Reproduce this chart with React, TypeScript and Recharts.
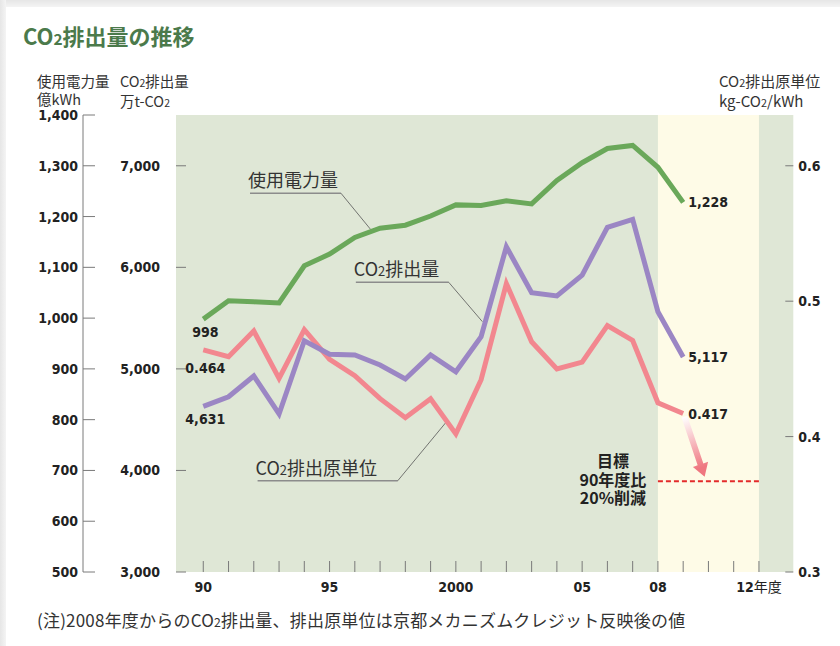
import React from "react";
import {
  LineChart,
  Line,
  XAxis,
  YAxis,
  CartesianGrid,
  ReferenceArea,
  ReferenceLine,
  LabelList,
} from "recharts";

// 年度
const years = [
  1990, 1991, 1992, 1993, 1994, 1995, 1996, 1997, 1998, 1999, 2000, 2001, 2002,
  2003, 2004, 2005, 2006, 2007, 2008, 2009,
];
// 使用電力量 (億kWh)
const electricity = [
  998, 1034, 1032, 1030, 1103, 1126, 1159, 1177, 1183, 1201, 1223, 1222, 1231,
  1225, 1271, 1306, 1334, 1340, 1297, 1228,
];
// CO2排出量 (万t-CO2)
const emissions = [
  4631, 4726, 4930, 4556, 5277, 5144, 5137, 5038, 4900, 5137, 4972, 5317, 6203,
  5750, 5718, 5924, 6394, 6473, 5563, 5117,
];
// CO2排出原単位 (kg-CO2/kWh)
const intensity = [
  0.464, 0.459, 0.478, 0.443, 0.479, 0.457, 0.445, 0.428, 0.414, 0.428, 0.402,
  0.442, 0.513, 0.47, 0.45, 0.455, 0.482, 0.471, 0.425, 0.417,
];

// 目標 (90年度比20%削減)
const targetValue = 0.367;
const targetYears = [2008, 2012];

const xTicks = Array.from({ length: 23 }, (_, i) => 1990 + i);
const xTickLabels: Record<number, string> = {
  1990: "90",
  1995: "95",
  2000: "2000",
  2005: "05",
  2008: "08",
  2012: "12年度",
};
const elecTicks = [500, 600, 700, 800, 900, 1000, 1100, 1200, 1300, 1400];
const emissionTicks = [3000, 4000, 5000, 6000, 7000];
const intensityTicks = [0.3, 0.4, 0.5, 0.6];

const data = years.map((year, i) => ({
  year,
  electricity: electricity[i],
  emissions: emissions[i],
  intensity: intensity[i],
}));

const NUM_FONT = "'DejaVu Sans Condensed', 'DejaVu Sans', sans-serif";
const JP_FONT = "'Noto Sans CJK JP', 'Noto Sans', sans-serif";
const TICK_GRAY = "#7a7a7a";

const GREEN = "#6aa85a";
const PURPLE = "#9b86c4";
const PINK = "#f2878f";

const fmt = (v: number) => v.toLocaleString("en-US");

const ElecTick = ({ x, y, payload }: any) => (
  <g>
    <line x1={x} x2={x + 12} y1={y} y2={y} stroke={TICK_GRAY} />
    <text
      x={x - 5}
      y={y}
      dy="0.36em"
      textAnchor="end"
      fontFamily={NUM_FONT}
      fontWeight={700}
      fontSize={14}
      fill="#222"
    >
      {fmt(payload.value)}
    </text>
  </g>
);

const EmissionTick = ({ x, y, payload }: any) => (
  <g>
    <line x1={x} x2={x + 10} y1={y} y2={y} stroke={TICK_GRAY} />
    <text
      x={x - 16}
      y={y}
      dy="0.36em"
      textAnchor="end"
      fontFamily={NUM_FONT}
      fontWeight={700}
      fontSize={14}
      fill="#222"
    >
      {fmt(payload.value)}
    </text>
  </g>
);

const IntensityTick = ({ x, y, payload }: any) => (
  <g>
    <line x1={x - 8} x2={x} y1={y} y2={y} stroke={TICK_GRAY} />
    <text
      x={x + 5}
      y={y}
      dy="0.36em"
      textAnchor="start"
      fontFamily={NUM_FONT}
      fontWeight={700}
      fontSize={14}
      fill="#222"
    >
      {payload.value.toFixed(1)}
    </text>
  </g>
);

const YearTick = ({ x, y, payload }: any) => {
  const label = xTickLabels[payload.value];
  return (
    <g>
      <line x1={x} x2={x} y1={y - 11} y2={y} stroke={TICK_GRAY} />
      {label && (
        <text
          x={x}
          y={y + 15}
          dy="0.36em"
          textAnchor="middle"
          fontFamily={NUM_FONT}
          fontWeight={700}
          fontSize={14}
          fill="#222"
        >
          {label.replace("年度", "")}
          {label.includes("年度") && (
            <tspan fontFamily={JP_FONT} fontWeight={400} fontSize={14}>
              年度
            </tspan>
          )}
        </text>
      )}
    </g>
  );
};

// first / last point labels
const endLabels =
  (values: number[], text: (v: number) => string, firstDy: number) =>
  (p: any) => {
    const last = values.length - 1;
    const idx =
      p.index !== undefined
        ? p.index
        : p.value === values[0]
        ? 0
        : p.value === values[last]
        ? last
        : -1;
    if (idx !== 0 && idx !== last) return null;
    const common = {
      fontFamily: NUM_FONT,
      fontWeight: 700,
      fontSize: 14,
      fill: "#222",
      dy: "0.36em",
    };
    if (idx === 0)
      return (
        <text x={p.x + 2} y={p.y + firstDy} textAnchor="middle" {...common}>
          {text(values[0])}
        </text>
      );
    return (
      <text x={p.x + 5} y={p.y} textAnchor="start" {...common}>
        {text(values[last])}
      </text>
    );
  };

const Co2 = () => (
  <>
    CO<tspan fontSize="0.72em">2</tspan>
  </>
);

const underline = (label: React.ReactNode) => (p: any) => (
  <g>
    <line
      x1={p.x1}
      y1={p.y1}
      x2={p.x2}
      y2={p.y2}
      stroke="#8c8c8c"
      strokeWidth={1.5}
    />
    <text
      x={p.x1 - 2}
      y={p.y1 - 6}
      fontFamily={JP_FONT}
      fontSize={18}
      fill="#333"
    >
      {label}
    </text>
  </g>
);

const TargetShape = (p: any) => {
  const cx = p.x1 - 45;
  const style = {
    fontFamily: JP_FONT,
    fontSize: 16,
    fontWeight: 700,
    fill: "#222",
    textAnchor: "middle" as const,
  };
  return (
    <g>
      <line
        x1={p.x1}
        y1={p.y1}
        x2={p.x2}
        y2={p.y2}
        stroke="#e32b2b"
        strokeWidth={2}
        strokeDasharray="5 3"
      />
      <text x={cx} y={p.y1 - 14} {...style}>
        目標
      </text>
      <text x={cx} y={p.y1 + 4.5} {...style}>
        90年度比
      </text>
      <text x={cx} y={p.y1 + 22.5} {...style}>
        20%削減
      </text>
    </g>
  );
};

const ArrowShape = (p: any) => {
  const { x1, y1, x2, y2 } = p;
  const dx = x2 - x1;
  const dy = y2 - y1;
  const len = Math.hypot(dx, dy);
  const ux = dx / len;
  const uy = dy / len;
  const nx = -uy;
  const ny = ux;
  const head = 13;
  const hw = 8;
  const sw = 3;
  const bx = x2 - ux * head;
  const by = y2 - uy * head;
  const pts = [
    [x1 + nx * sw, y1 + ny * sw],
    [bx + nx * sw, by + ny * sw],
    [bx + nx * hw, by + ny * hw],
    [x2, y2],
    [bx - nx * hw, by - ny * hw],
    [bx - nx * sw, by - ny * sw],
    [x1 - nx * sw, y1 - ny * sw],
  ]
    .map((q) => q.join(","))
    .join(" ");
  return (
    <g>
      <defs>
        <linearGradient
          id="arrowGrad"
          gradientUnits="userSpaceOnUse"
          x1={x1}
          y1={y1}
          x2={x2}
          y2={y2}
        >
          <stop offset="0" stopColor="#ffffff" />
          <stop offset="0.85" stopColor="#ef7780" />
        </linearGradient>
      </defs>
      <polygon points={pts} fill="url(#arrowGrad)" />
    </g>
  );
};

const headerStyle: React.CSSProperties = {
  position: "absolute",
  top: 72,
  fontSize: 14.5,
  lineHeight: "17.5px",
  color: "#333",
  whiteSpace: "nowrap",
};

export default function App() {
  return (
    <div
      style={{
        position: "absolute",
        left: 0,
        top: 0,
        width: 840,
        height: 646,
        background: "#fff",
        overflow: "hidden",
        fontFamily: JP_FONT,
      }}
    >
      <div
        style={{
          position: "absolute",
          left: 0,
          top: 0,
          width: 840,
          height: 7,
          background: "linear-gradient(#e6e6e6, #f4f4f4)",
        }}
      />
      <div
        style={{
          position: "absolute",
          left: 0,
          top: 0,
          width: 6,
          height: 646,
          background: "linear-gradient(90deg, #e6e6e6, #f4f4f4)",
        }}
      />
      <div
        style={{
          position: "absolute",
          left: 23,
          top: 24,
          fontSize: 22,
          lineHeight: "22px",
          fontWeight: 700,
          color: "#4b7a4b",
          whiteSpace: "nowrap",
        }}
      >
        CO<span style={{ fontSize: "0.7em" }}>2</span>排出量の推移
      </div>
      <div style={{ ...headerStyle, left: 37 }}>
        使用電力量
        <br />
        億kWh
      </div>
      <div style={{ ...headerStyle, left: 120 }}>
        CO<span style={{ fontSize: "0.72em" }}>2</span>排出量
        <br />
        万t-CO<span style={{ fontSize: "0.72em" }}>2</span>
      </div>
      <div style={{ ...headerStyle, left: 719, fontSize: 15 }}>
        CO<span style={{ fontSize: "0.72em" }}>2</span>排出原単位
        <br />
        kg-CO<span style={{ fontSize: "0.72em" }}>2</span>/kWh
      </div>
      <div
        style={{
          position: "absolute",
          left: 37,
          top: 611,
          fontSize: 17,
          lineHeight: "18px",
          color: "#333",
          whiteSpace: "nowrap",
          letterSpacing: "0.2px",
        }}
      >
        (注)2008年度からのCO<span style={{ fontSize: "0.72em" }}>2</span>
        排出量、排出原単位は京都メカニズムクレジット反映後の値
      </div>

      <div style={{ position: "absolute", left: 0, top: 0 }}>
        <LineChart
          width={840}
          height={646}
          data={data}
          margin={{ top: 115, right: 0, bottom: 44, left: 0 }}
        >
          <CartesianGrid
            yAxisId="elec"
            horizontal={false}
            vertical={false}
            fill="#dfe7d6"
            stroke="none"
          />
          <ReferenceArea
            x1={targetYears[0]}
            x2={targetYears[1]}
            yAxisId="elec"
            fill="#fefbe7"
            fillOpacity={1}
            stroke="none"
          />
          <XAxis
            dataKey="year"
            type="number"
            domain={[1988.92, 2013.36]}
            ticks={xTicks}
            interval={0}
            height={30}
            axisLine={false}
            tickLine={false}
            tickSize={0}
            tickMargin={0}
            tick={<YearTick />}
          />
          <YAxis
            yAxisId="co2"
            orientation="left"
            width={93}
            domain={[3000, 7500]}
            ticks={emissionTicks}
            interval={0}
            axisLine={false}
            tickLine={false}
            tickSize={0}
            tickMargin={0}
            tick={<EmissionTick />}
          />
          <YAxis
            yAxisId="elec"
            orientation="left"
            width={83}
            domain={[500, 1400]}
            ticks={elecTicks}
            interval={0}
            axisLine={{ stroke: TICK_GRAY }}
            tickLine={false}
            tickSize={0}
            tickMargin={0}
            tick={<ElecTick />}
          />
          <YAxis
            yAxisId="ratio"
            orientation="right"
            width={46.7}
            domain={[0.3, 0.6375]}
            ticks={intensityTicks}
            interval={0}
            axisLine={false}
            tickLine={false}
            tickSize={0}
            tickMargin={0}
            tick={<IntensityTick />}
          />

          {/* 目標ライン */}
          <ReferenceLine
            yAxisId="ratio"
            segment={[
              { x: targetYears[0], y: targetValue },
              { x: targetYears[1], y: targetValue },
            ]}
            shape={TargetShape}
          />
          <ReferenceLine
            yAxisId="ratio"
            segment={[
              { x: 2009.05, y: 0.4147 },
              { x: 2009.85, y: 0.3704 },
            ]}
            shape={ArrowShape}
          />

          {/* callouts */}
          <ReferenceLine
            yAxisId="elec"
            segment={[
              { x: 1991.85, y: 1246 },
              { x: 1995.45, y: 1246 },
            ]}
            shape={underline("使用電力量")}
          />
          <ReferenceLine
            yAxisId="elec"
            segment={[
              { x: 1995.45, y: 1246 },
              { x: 1996.62, y: 1175 },
            ]}
            stroke="#555"
            strokeWidth={0.8}
          />
          <ReferenceLine
            yAxisId="co2"
            segment={[
              { x: 1996.04, y: 5852 },
              { x: 1999.72, y: 5852 },
            ]}
            shape={underline(
              <>
                <Co2 />
                排出量
              </>
            )}
          />
          <ReferenceLine
            yAxisId="co2"
            segment={[
              { x: 1999.72, y: 5852 },
              { x: 2001.05, y: 5465 },
            ]}
            stroke="#555"
            strokeWidth={0.8}
          />
          <ReferenceLine
            yAxisId="ratio"
            segment={[
              { x: 1992.15, y: 0.3674 },
              { x: 1997.7, y: 0.3674 },
            ]}
            shape={underline(
              <>
                <Co2 />
                排出原単位
              </>
            )}
          />
          <ReferenceLine
            yAxisId="ratio"
            segment={[
              { x: 1997.7, y: 0.3674 },
              { x: 1999.6, y: 0.4103 },
            ]}
            stroke="#555"
            strokeWidth={0.8}
          />

          <Line
            yAxisId="ratio"
            dataKey="intensity"
            type="linear"
            stroke={PINK}
            strokeWidth={5}
            strokeLinejoin="miter"
            dot={false}
            activeDot={false}
            isAnimationActive={false}
          >
            <LabelList
              dataKey="intensity"
              content={endLabels(intensity, (v) => v.toFixed(3), 18)}
            />
          </Line>
          <Line
            yAxisId="co2"
            dataKey="emissions"
            type="linear"
            stroke={PURPLE}
            strokeWidth={5}
            strokeLinejoin="miter"
            dot={false}
            activeDot={false}
            isAnimationActive={false}
          >
            <LabelList
              dataKey="emissions"
              content={endLabels(emissions, fmt, 13)}
            />
          </Line>
          <Line
            yAxisId="elec"
            dataKey="electricity"
            type="linear"
            stroke={GREEN}
            strokeWidth={5}
            strokeLinejoin="miter"
            dot={false}
            activeDot={false}
            isAnimationActive={false}
          >
            <LabelList
              dataKey="electricity"
              content={endLabels(electricity, fmt, 13)}
            />
          </Line>
        </LineChart>
      </div>
    </div>
  );
}
